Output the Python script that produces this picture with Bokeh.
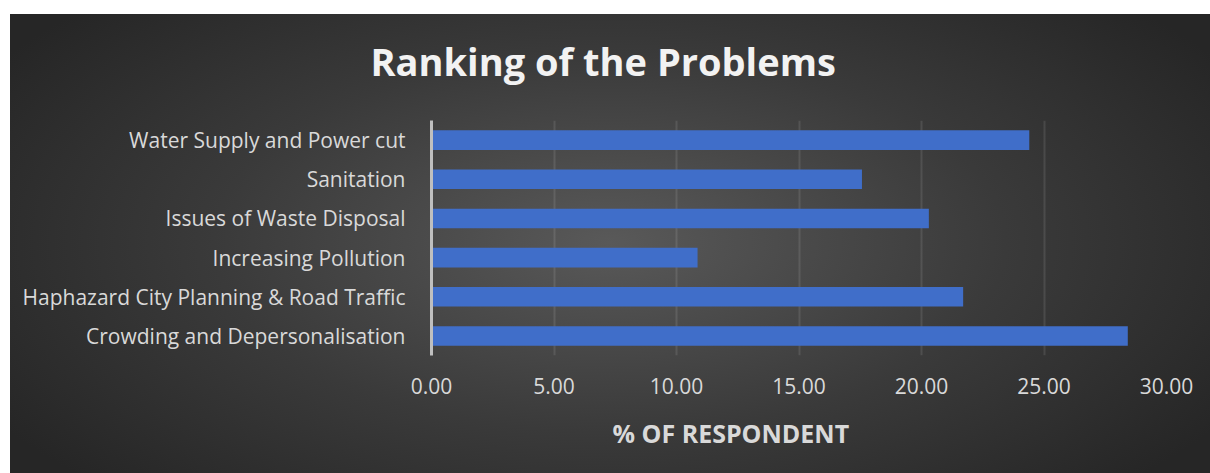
from bokeh.plotting import figure
from bokeh.models import Range1d, FactorRange, Title, NumeralTickFormatter, FixedTicker
from bokeh.embed import file_html
from bokeh.resources import INLINE

categories = [
    "Crowding and Depersonalisation",
    "Haphazard City Planning & Road Traffic",
    "Increasing Pollution",
    "Issues of Waste Disposal",
    "Sanitation",
    "Water Supply and Power cut",
]
values = [28.42, 21.70, 10.86, 20.30, 17.57, 24.40]
x_ticks = [0, 5, 10, 15, 20, 25, 30]
title_text = "Ranking of the Problems"
x_title = "% OF RESPONDENT"

FONT = "Open Sans"

p = figure(
    width=1210, height=473,
    y_range=FactorRange(factors=categories, range_padding=0),
    x_range=Range1d(0, 30),
    output_backend="svg", toolbar_location=None,
    min_border_left=431, min_border_right=44, min_border_top=120, min_border_bottom=118,
)
p.styles = {"background": (
    "linear-gradient(to right, #ffffff 10px, transparent 10px), "
    "linear-gradient(to bottom, #ffffff 14px, transparent 14px), "
    "radial-gradient(ellipse 720px 344px at 610px 243px, #595959 0%, #3a3a3a 55%, #262626 100%)"
)}
p.background_fill_alpha = 0
p.border_fill_alpha = 0
p.outline_line_color = None

p.hbar(y=categories, right=values, left=0, height=0.5, fill_color="#406ec9", line_color=None)

p.xaxis.ticker = FixedTicker(ticks=x_ticks)
p.xaxis.formatter = NumeralTickFormatter(format="0.00")
p.xaxis.axis_line_color = None
p.xaxis.major_tick_line_color = None
p.xaxis.minor_tick_line_color = None
p.xaxis.major_label_text_color = "#d9d9d9"
p.xaxis.major_label_text_font = FONT
p.xaxis.major_label_text_font_size = "21px"
p.xaxis.major_label_standoff = 16

p.yaxis.axis_line_color = "#bfbfbf"
p.yaxis.axis_line_width = 3
p.yaxis.major_tick_line_color = None
p.yaxis.minor_tick_line_color = None
p.yaxis.major_label_text_color = "#d9d9d9"
p.yaxis.major_label_text_font = FONT
p.yaxis.major_label_text_font_size = "21px"
p.yaxis.major_label_standoff = 20

p.ygrid.grid_line_color = None
p.xgrid.grid_line_color = "white"
p.xgrid.grid_line_alpha = 0.1
p.xgrid.grid_line_width = 2

p.add_layout(Title(text=title_text, align="left", offset=-61, standoff=64, vertical_align="top",
                   text_font=FONT, text_font_style="bold", text_font_size="38px",
                   text_color="#f2f2f2"), "above")
p.add_layout(Title(text=x_title, align="left", offset=181, standoff=38, vertical_align="top",
                   text_font=FONT, text_font_style="bold", text_font_size="25px",
                   text_color="#d9d9d9"), "below")

open("out.html", "w").write(file_html(p, INLINE))
